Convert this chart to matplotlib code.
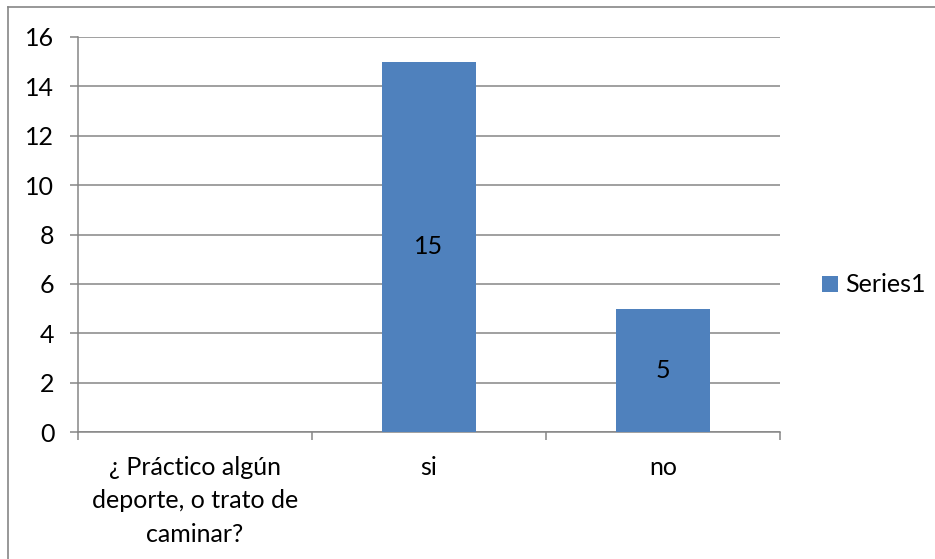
import numpy as np
import matplotlib
matplotlib.use("Agg")
import matplotlib.pyplot as plt
from matplotlib.lines import Line2D

categories = ["¿ Práctico algún\ndeporte, o trato de\ncaminar?", "si", "no"]
values = [np.nan, 15, 5]
series_name = "Series1"
yticks = [0, 2, 4, 6, 8, 10, 12, 14, 16]

plt.rcParams["font.family"] = ["Lato", "DejaVu Sans"]
plt.rcParams["font.size"] = 18

bar_color = "#4F81BD"
grid_color = "#868686"

fig = plt.figure(figsize=(9.35, 5.59), dpi=100)
fig.patch.set_facecolor("white")

# chart-area frame: top and left edges
fx, fy = 8 / 935, 1 - 7 / 559
fig.add_artist(Line2D([fx, 1.0], [fy, fy], transform=fig.transFigure,
                      color=grid_color, linewidth=1.2))
fig.add_artist(Line2D([fx, fx], [0.0, fy], transform=fig.transFigure,
                      color=grid_color, linewidth=1.2))

ax = fig.add_axes([78 / 935, 1 - 432 / 559, (780 - 78) / 935, (432 - 37) / 559])
x = np.arange(len(categories))
bars = ax.bar(x, values, width=0.4, color=bar_color, label=series_name, zorder=3)

for xi, v in zip(x, values):
    if not np.isnan(v):
        ax.text(xi, v / 2, f"{v:g}", ha="center", va="center", color="black",
                zorder=4)

ax.set_xlim(-0.5, len(categories) - 0.5)
ax.set_ylim(0, 16)
ax.set_yticks(yticks)
ax.set_xticks(x)
ax.set_xticklabels(categories, linespacing=1.55, va="top")
ax.set_xticks(np.arange(len(categories) + 1) - 0.5, minor=True)

ax.yaxis.grid(True, color=grid_color, linewidth=1.1, zorder=0)
ax.set_axisbelow(True)

for side in ("top", "right"):
    ax.spines[side].set_visible(False)
for side in ("left", "bottom"):
    ax.spines[side].set_color(grid_color)
    ax.spines[side].set_linewidth(1.1)

ax.tick_params(axis="y", length=6, width=1.1, color=grid_color, pad=11)
ax.tick_params(axis="x", which="major", length=0, pad=17)
ax.tick_params(axis="x", which="minor", length=5.5, width=1.1, color=grid_color)

leg = fig.legend(handles=[bars], labels=[series_name], loc="center left",
                 bbox_to_anchor=(822 / 935, 1 - 285 / 559), frameon=False,
                 handlelength=0.62, handleheight=0.62, handletextpad=0.3,
                 borderpad=0, borderaxespad=0)

fig.savefig("out.png", dpi=100, facecolor="white")
